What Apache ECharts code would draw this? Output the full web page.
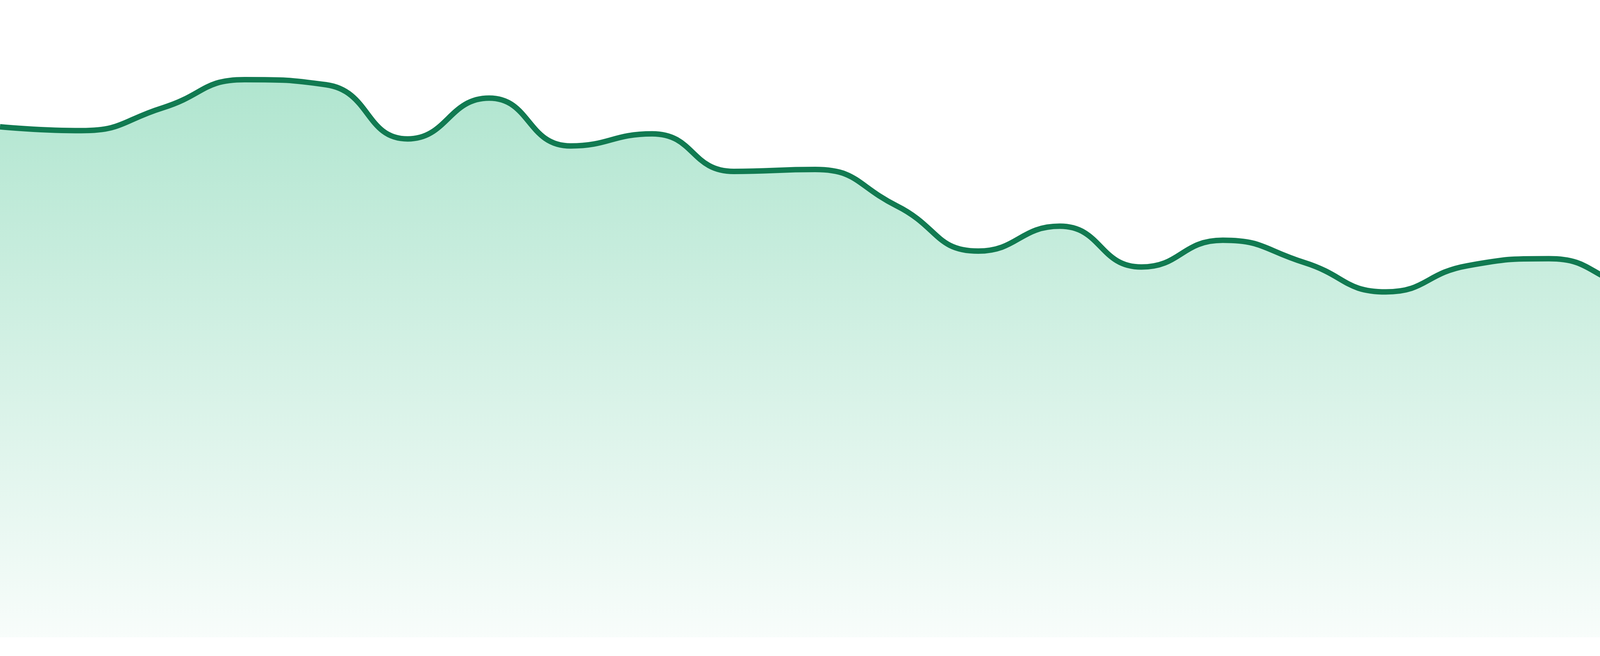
<!DOCTYPE html>
<html>
<head>
<meta charset="utf-8">
<script src="https://cdn.jsdelivr.net/npm/echarts@6/dist/echarts.min.js"></script>
<style>
  html, body { margin: 0; padding: 0; background: #ffffff; }
  #chart { width: 4800px; height: 1680px; }
</style>
</head>
<body>
<div id="chart"></div>
<script>
const categories = ['1','2','3','4','5','6','7','8','9','10','11','12','13','14','15','16','17','18','19','20','21','22','23','24'];
const values = [80.1, 79.5, 83.1, 87.5, 86.7, 78.2, 84.6, 77.1, 79.0, 73.1, 73.4, 67.7, 60.6, 64.5, 58.1, 62.3, 58.8, 54.2, 58.3, 59.4, 55.0, 52.6, 47.8, 43.5];

const chart = echarts.init(document.getElementById('chart'), null, { renderer: 'canvas' });
chart.setOption({
  animation: false,
  backgroundColor: '#ffffff',
  grid: { left: 0, right: 0, top: 0, bottom: 48 },
  xAxis: {
    type: 'category',
    data: categories,
    boundaryGap: false,
    show: false
  },
  yAxis: {
    type: 'value',
    min: 0,
    max: 100,
    show: false
  },
  series: [{
    type: 'line',
    data: values,
    smooth: true,
    showSymbol: false,
    lineStyle: { color: '#117a51', width: 14 },
    areaStyle: {
      opacity: 1,
      color: new echarts.graphic.LinearGradient(0, 0, 0, 1, [
        { offset: 0, color: 'rgba(29,181,118,0.35)' },
        { offset: 1, color: 'rgba(29,181,118,0.03)' }
      ])
    }
  }]
});
</script>
</body>
</html>
